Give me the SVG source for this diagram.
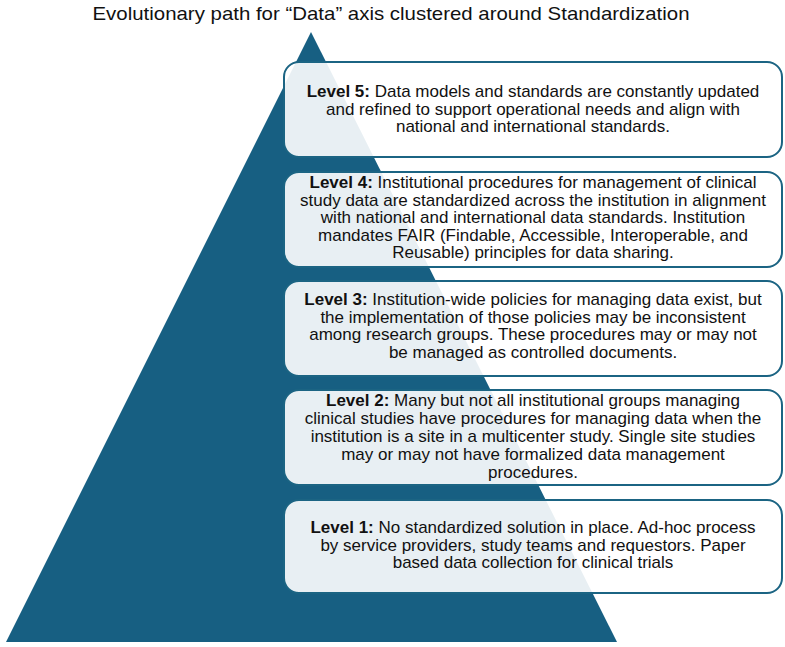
<svg xmlns="http://www.w3.org/2000/svg" width="785" height="647" viewBox="0 0 785 647">
<style>
.box{fill:#ffffff;fill-opacity:0.9;stroke:#1b6483;stroke-width:2}
.t{font-family:"Liberation Sans",Arial,sans-serif;font-size:17px;fill:#111;text-anchor:middle}
.b{font-weight:bold}
.title{font-family:"Liberation Sans",Arial,sans-serif;font-size:19px;fill:#111;text-anchor:middle}
</style>
<rect width="785" height="647" fill="#ffffff"/>
<text class="title" x="391" y="20" textLength="597" lengthAdjust="spacingAndGlyphs">Evolutionary path for “Data” axis clustered around Standardization</text>
<g id="pyramid">
<polygon points="311,32 6,642 617,642" fill="#175f82"/>
</g>
<g id="level5">
<rect class="box" x="284" y="62" width="498" height="95" rx="15"/>
<text class="t" y="97"><tspan x="533"><tspan class="b">Level 5:</tspan> Data models and standards are constantly updated</tspan><tspan x="533" dy="17.5">and refined to support operational needs and align with</tspan><tspan x="533" dy="17.5">national and international standards.</tspan></text>
</g>
<g id="level4">
<rect class="box" x="284" y="172" width="498" height="95" rx="15"/>
<text class="t" y="188"><tspan x="533"><tspan class="b">Level 4:</tspan> Institutional procedures for management of clinical</tspan><tspan x="533" dy="17.5">study data are standardized across the institution in alignment</tspan><tspan x="533" dy="17.5">with national and international data standards. Institution</tspan><tspan x="533" dy="17.5">mandates FAIR (Findable, Accessible, Interoperable, and</tspan><tspan x="533" dy="17.5">Reusable) principles for data sharing.</tspan></text>
</g>
<g id="level3">
<rect class="box" x="284" y="281" width="498" height="95" rx="15"/>
<text class="t" y="305"><tspan x="533"><tspan class="b">Level 3:</tspan> Institution-wide policies for managing data exist, but</tspan><tspan x="533" dy="17.5">the implementation of those policies may be inconsistent</tspan><tspan x="533" dy="17.5">among research groups. These procedures may or may not</tspan><tspan x="533" dy="17.5">be managed as controlled documents.</tspan></text>
</g>
<g id="level2">
<rect class="box" x="284" y="390" width="498" height="95" rx="15"/>
<text class="t" y="406"><tspan x="533"><tspan class="b">Level 2:</tspan> Many but not all institutional groups managing</tspan><tspan x="533" dy="18">clinical studies have procedures for managing data when the</tspan><tspan x="533" dy="18">institution is a site in a multicenter study. Single site studies</tspan><tspan x="533" dy="18">may or may not have formalized data management</tspan><tspan x="533" dy="18">procedures.</tspan></text>
</g>
<g id="level1">
<rect class="box" x="284" y="500" width="498" height="93" rx="15"/>
<text class="t" y="533"><tspan x="533"><tspan class="b">Level 1:</tspan> No standardized solution in place. Ad-hoc process</tspan><tspan x="533" dy="17.5">by service providers, study teams and requestors. Paper</tspan><tspan x="533" dy="17.5">based data collection for clinical trials</tspan></text>
</g>
</svg>
